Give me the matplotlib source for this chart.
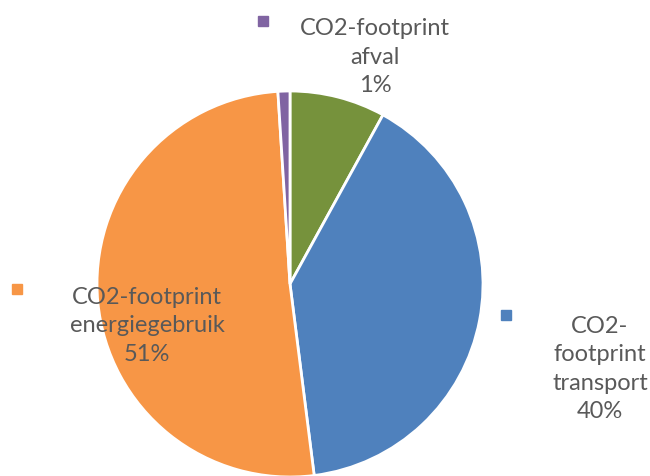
import matplotlib
matplotlib.use("Agg")
import matplotlib.pyplot as plt

labels = ["CO2-footprint\n(overig)", "CO2-\nfootprint\ntransport", "CO2-footprint\nenergiegebruik", "CO2-footprint\nafval"]
values = [8, 40, 51, 1]
colors = ["#76923C", "#4F81BD", "#F79646", "#8064A2"]

W, H = 650, 477
fig = plt.figure(figsize=(W / 100, H / 100), dpi=100)
plt.rcParams['font.family'] = ['Lato', 'DejaVu Sans']

# pie centre at (290, 285) px, radius 193 px
cx, cy, r = 290, 285, 193
ax = fig.add_axes([(cx - r) / W, 1 - (cy + r) / H, 2 * r / W, 2 * r / H])
ax.pie(values, colors=colors, startangle=90, counterclock=False,
       wedgeprops=dict(edgecolor="white", linewidth=2))
ax.set_xlim(-1, 1)
ax.set_ylim(-1, 1)
ax.set_aspect("auto")
ax.axis("off")

# data labels with legend-style square markers, positions in pixels
label_pos = {1: (600, 369, 506, 316), 2: (147, 326, 17, 290), 3: (375, 57, 263, 22)}
txtcolor = "#595959"
for i, (tx, ty, mx, my) in label_pos.items():
    fig.text(tx / W, 1 - ty / H, f"{labels[i]}\n{values[i]}%", ha="center", va="center",
             color=txtcolor, fontsize=17, linespacing=1.42)
    ax.plot([mx / W], [1 - my / H], marker="s", markersize=7, color=colors[i],
            transform=fig.transFigure, clip_on=False)

fig.savefig("out.png", dpi=100)
